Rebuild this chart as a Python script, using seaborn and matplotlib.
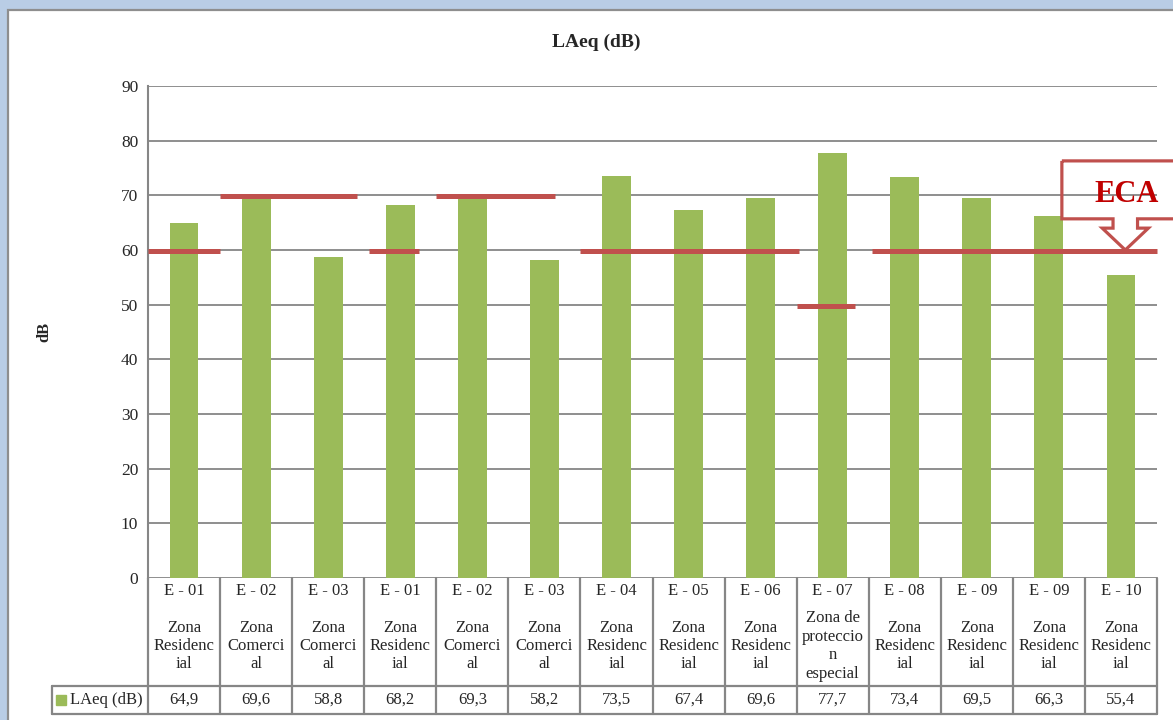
import numpy as np
import pandas as pd
import matplotlib
matplotlib.use("Agg")
import matplotlib.pyplot as plt
import matplotlib.transforms as mtransforms
from matplotlib.patches import Rectangle, Polygon
import seaborn as sns

# Data
stations = ["E - 01", "E - 02", "E - 03", "E - 01", "E - 02", "E - 03", "E - 04",
            "E - 05", "E - 06", "E - 07", "E - 08", "E - 09", "E - 09", "E - 10"]
zones = ["Zona\nResidenc\nial", "Zona\nComerci\nal", "Zona\nComerci\nal",
         "Zona\nResidenc\nial", "Zona\nComerci\nal", "Zona\nComerci\nal",
         "Zona\nResidenc\nial", "Zona\nResidenc\nial", "Zona\nResidenc\nial",
         "Zona de\nproteccio\nn\nespecial", "Zona\nResidenc\nial",
         "Zona\nResidenc\nial", "Zona\nResidenc\nial", "Zona\nResidenc\nial"]
laeq = [64.9, 69.6, 58.8, 68.2, 69.3, 58.2, 73.5, 67.4, 69.6, 77.7, 73.4, 69.5, 66.3, 55.4]
# ECA limit for each station (red lines)
eca_limit = [60, 70, 70, 60, 70, 70, 60, 60, 60, 50, 60, 60, 60, 60]
series_name = "LAeq (dB)"

sns.set_style("white")
plt.rcParams['font.family'] = ['Liberation Serif', 'DejaVu Serif']

GREEN = "#9BBB59"
RED = "#C0504D"
GRID = "#868686"

W, H = 1173, 720
fig = plt.figure(figsize=(W / 100, H / 100), dpi=100)
fig.patch.set_facecolor("#B9CDE5")
fig.patches.append(Rectangle((7.5 / W, -0.1), 1.2, 1 - 9.5 / H + 0.1, transform=fig.transFigure,
                             facecolor="white", edgecolor="#8E8E8E", lw=1.6, zorder=-1))

# plot area in pixels: x 148..1157, y 86..578
ax = fig.add_axes([148 / W, 1 - 578 / H, (1157 - 148) / W, (578 - 86) / H])
ax.set_facecolor("none")

keys = [f"{s}|{i}" for i, s in enumerate(stations)]
df = pd.DataFrame({"key": keys, "laeq": laeq})
sns.barplot(data=df, x="key", y="laeq", order=keys, color=GREEN, saturation=1,
            width=0.4, linewidth=0, ax=ax, zorder=2)

ax.set_xlim(-0.5, len(stations) - 0.5)
ax.set_ylim(0, 90)
ax.set_yticks(range(0, 100, 10))
ax.set_xticks([])
ax.set_xlabel("")
ax.yaxis.grid(True, color=GRID, lw=1.3)
ax.set_axisbelow(True)
for side in ["top", "right", "bottom"]:
    ax.spines[side].set_visible(False)
ax.spines["left"].set_color(GRID)
ax.spines["left"].set_linewidth(1.5)
ax.tick_params(axis="y", length=0, pad=7, labelsize=12.5)
ax.set_ylabel("dB", fontsize=12, fontweight="bold")
ax.yaxis.set_label_coords(-0.095, 0.5)
fig.text(596 / W, 1 - 42 / H, "LAeq (dB)", fontsize=14, fontweight="bold",
         ha="center", va="center")

# ECA limit lines, one per run of equal limits
runs = []
start = 0
for i in range(1, len(eca_limit) + 1):
    if i == len(eca_limit) or eca_limit[i] != eca_limit[start]:
        runs.append((start, i - 1, eca_limit[start]))
        start = i
trims = [(0, 0), (0, 0.1), (0.07, 0.24), (0, 0.35), (0, -0.03), (0, 0.19), (0.05, 0)]
for (a, b, v), (tl, tr) in zip(runs, trims):
    ax.plot([a - 0.5 + tl, b + 0.5 - tr], [v - 0.2, v - 0.2], color=RED, lw=3.6,
            solid_capstyle="butt", zorder=4, clip_on=False)

# ECA callout pointing at the last limit line
tx, ty = 13.06, eca_limit[-1]
shape = [(-0.88, 16.3), (1.0, 16.3), (1.0, 5.7), (0.17, 5.7), (0.17, 4.0), (0.32, 4.0),
         (0, 0), (-0.32, 4.0), (-0.17, 4.0), (-0.17, 5.7), (-0.88, 5.7)]
ax.add_patch(Polygon([(tx + dx, ty + dy) for dx, dy in shape], closed=True, fill=False,
                     edgecolor=RED, lw=2.3, zorder=5, clip_on=False))
ax.text(tx + 0.02, ty + 10.2, "ECA", color="#C00000", fontsize=22, fontweight="bold",
        ha="center", va="center", zorder=6)

# data table below the plot
trans = mtransforms.blended_transform_factory(ax.transData, ax.transAxes)
row1 = -108 / 492
row2 = -136 / 492
xleg = (52 - 148) / (1009 / len(stations)) - 0.5
n = len(stations)
tkw = dict(transform=trans, color=GRID, lw=1.6, clip_on=False, zorder=3)
for i in range(n + 1):
    ax.plot([i - 0.5, i - 0.5], [0, row2], **tkw)
ax.plot([xleg, n - 0.5], [row1, row1], **tkw)
ax.plot([xleg, n - 0.5], [row2, row2], **tkw)
ax.plot([xleg, xleg], [row1, row2], **tkw)

for i in range(n):
    ax.text(i, -13 / 492, stations[i], transform=trans, ha="center", va="center", fontsize=12)
    ax.text(i, -68 / 492, zones[i], transform=trans, ha="center", va="center", fontsize=12,
            linespacing=1.2)
    ax.text(i, -122 / 492, f"{laeq[i]:.1f}".replace(".", ","), transform=trans,
            ha="center", va="center", fontsize=12)

ax.plot([xleg + 0.13], [-122 / 492], marker="s", ms=7, color=GREEN, transform=trans,
        clip_on=False, linestyle="none")
ax.text(xleg + 0.25, -122 / 492, series_name, transform=trans, ha="left", va="center", fontsize=12)

fig.savefig("out.png", dpi=100, facecolor=fig.get_facecolor())
